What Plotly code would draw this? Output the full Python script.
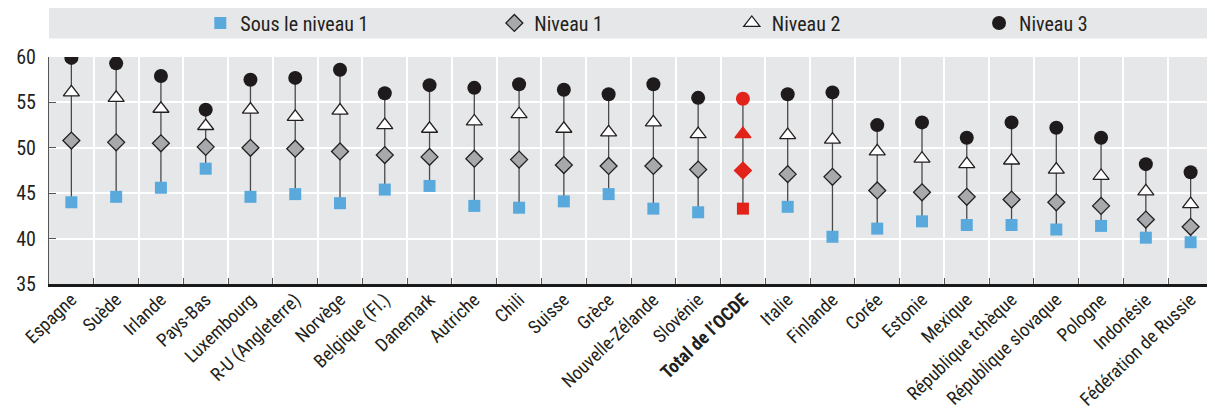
import plotly.graph_objects as go

countries = ["Espagne", "Suède", "Irlande", "Pays-Bas", "Luxembourg", "R-U (Angleterre)",
             "Norvège", "Belgique (Fl.)", "Danemark", "Autriche", "Chili", "Suisse", "Grèce",
             "Nouvelle-Zélande", "Slovénie", "Total de l’OCDE", "Italie", "Finlande", "Corée",
             "Estonie", "Mexique", "République tchèque", "République slovaque", "Pologne",
             "Indonésie", "Fédération de Russie"]

sous_niveau1 = [44.0, 44.6, 45.6, 47.7, 44.6, 44.9, 43.9, 45.4, 45.8, 43.6, 43.4, 44.1, 44.9,
                43.3, 42.9, 43.3, 43.5, 40.2, 41.1, 41.9, 41.5, 41.5, 41.0, 41.4, 40.1, 39.6]
niveau1 = [50.8, 50.6, 50.5, 50.1, 50.0, 49.9, 49.6, 49.2, 49.0, 48.8, 48.7, 48.1, 48.0,
           48.0, 47.6, 47.5, 47.1, 46.8, 45.3, 45.1, 44.6, 44.3, 44.0, 43.6, 42.1, 41.3]
niveau2 = [56.1, 55.5, 54.3, 52.4, 54.2, 53.4, 54.1, 52.5, 52.1, 52.9, 53.7, 52.1, 51.7,
           52.8, 51.5, 51.5, 51.4, 50.9, 49.6, 48.8, 48.2, 48.6, 47.6, 46.9, 45.2, 43.8]
niveau3 = [59.9, 59.3, 57.9, 54.2, 57.5, 57.7, 58.6, 56.0, 56.9, 56.6, 57.0, 56.4, 55.9,
           57.0, 55.5, 55.4, 55.9, 56.1, 52.5, 52.8, 51.1, 52.8, 52.2, 51.1, 48.2, 47.3]

series_names = ["Sous le niveau 1", "Niveau 1", "Niveau 2", "Niveau 3"]
y_ticks = [35, 40, 45, 50, 55, 60]

HIGHLIGHT = "Total de l’OCDE"
RED = "#e2231a"
BLUE = "#5aa9dd"
GREY = "#a7a9ac"
BLACK = "#1f1a1b"
BG = "#e6e7e8"
FONT = "Liberation Sans Narrow, Arial Narrow, Roboto Condensed, sans-serif"

ticktext = [f"<b>{c}</b>" if c == HIGHLIGHT else c for c in countries]
is_hl = [c == HIGHLIGHT for c in countries]

def col(normal, i):
    return RED if is_hl[i] else normal

n = len(countries)
fig = go.Figure()

# connecting vertical lines
lx, ly = [], []
for c, lo, hi in zip(countries, sous_niveau1, niveau3):
    lx += [c, c, None]
    ly += [lo, hi, None]
fig.add_trace(go.Scatter(x=lx, y=ly, mode="lines", line=dict(color="#4a4a4a", width=1.3),
                         showlegend=False, hoverinfo="skip"))

fig.add_trace(go.Scatter(
    x=countries, y=sous_niveau1, mode="markers", name=series_names[0], legend="legend",
    marker=dict(symbol="square", size=12, color=[col(BLUE, i) for i in range(n)],
                line=dict(width=0))))
fig.add_trace(go.Scatter(
    x=countries, y=niveau1, mode="markers", name=series_names[1], legend="legend2",
    marker=dict(symbol="diamond", size=13, color=[col(GREY, i) for i in range(n)],
                line=dict(width=1.3, color=[col("#231f20", i) for i in range(n)]))))
fig.add_trace(go.Scatter(
    x=countries, y=niveau2, mode="markers", name=series_names[2], legend="legend3",
    marker=dict(symbol="triangle-up", size=14, color=[col("white", i) for i in range(n)],
                line=dict(width=1.3, color=[col("#231f20", i) for i in range(n)]))))
fig.add_trace(go.Scatter(
    x=countries, y=niveau3, mode="markers", name=series_names[3], legend="legend4",
    marker=dict(symbol="circle", size=14, color=[col(BLACK, i) for i in range(n)],
                line=dict(width=0))))

legend_x = [0.1300, 0.3826, 0.5866, 0.799]
leg_common = dict(orientation="h", y=1.15, yanchor="middle", xanchor="left",
                  bgcolor="rgba(0,0,0,0)", font=dict(family=FONT, size=20, color="#231f20"))

fig.update_layout(
    width=1215, height=411,
    margin=dict(l=41, r=10, t=49, b=135, autoexpand=False),
    paper_bgcolor="white", plot_bgcolor=BG,
    font=dict(family=FONT, size=18, color="#231f20"),
    legend=dict(x=legend_x[0], **leg_common),
    legend2=dict(x=legend_x[1], **leg_common),
    legend3=dict(x=legend_x[2], **leg_common),
    legend4=dict(x=legend_x[3], **leg_common),
    shapes=[dict(type="rect", xref="paper", yref="paper", x0=0, x1=1, y0=1.082, y1=1.216,
                 fillcolor=BG, line=dict(width=0), layer="below")],
    xaxis=dict(type="category", categoryorder="array", categoryarray=countries,
               tickmode="array", tickvals=countries, ticktext=ticktext,
               tickson="boundaries", showgrid=True, gridcolor="white", gridwidth=2,
               ticks="inside", ticklen=6, tickcolor="#555", tickangle=-44, automargin=False,
               ticklabelstandoff=-5,
               showline=True, linecolor="#1a1a1a", linewidth=2.5,
               tickfont=dict(family=FONT, size=18.5, color="#231f20"),
               range=[-0.5, n - 0.5]),
    yaxis=dict(range=[35, 60], tickvals=y_ticks, showgrid=True, gridcolor="white", gridwidth=2,
               ticks="inside", ticklen=7, tickcolor="#555", automargin=False,
               ticklabelstandoff=8,
               showline=True, linecolor="#555", linewidth=1.2, zeroline=False,
               tickfont=dict(family=FONT, size=20, color="#231f20")),
)

fig.write_html("out.html")
